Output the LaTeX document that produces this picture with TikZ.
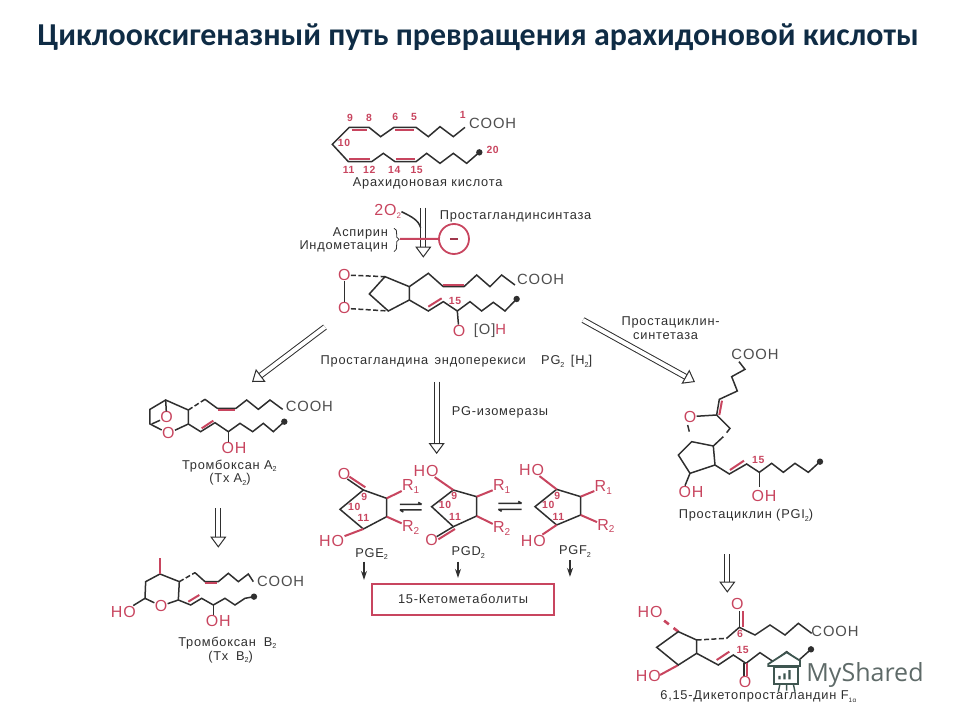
\documentclass[tikz,border=0pt]{standalone}
\usepackage{fontspec}
\setmainfont{Liberation Sans}[LetterSpace=6]
\newfontfamily\titlefont{Carlito}
\newfontfamily\markfont{Open Sans}
\usetikzlibrary{arrows.meta,positioning}
\definecolor{bondcol}{HTML}{2F2F2F}
\definecolor{chemred}{HTML}{C8455F}
\definecolor{titlecol}{HTML}{0F2C45}
\definecolor{markcol}{HTML}{5E6A68}
\definecolor{iconcol}{HTML}{3E5650}
\newcommand{\lowtwo}{\raisebox{-0.35ex}{\fontsize{3.6}{4}\selectfont 2}}
\tikzset{
	bond/.style={draw=bondcol,line width=0.75pt},
	dashbond/.style={bond,dash pattern=on 2.5pt off 1.2pt},
	redbond/.style={draw=chemred,line width=1pt},
	endatom/.style={circle,fill=bondcol,inner sep=0pt,minimum size=3.2pt},
	atom/.style={text=chemred,font=\fontsize{8}{9}\selectfont,inner sep=0pt},
	num/.style={text=chemred,font=\bfseries\fontsize{5.2}{6}\selectfont,inner sep=0pt},
	cooh/.style={text=bondcol!85,font=\fontsize{7.4}{8}\selectfont,inner sep=0pt},
	caplabel/.style={text=bondcol,font=\fontsize{6.4}{7}\selectfont,inner sep=0pt},
	hollow/.style={draw=bondcol,line width=0.5pt,double=white,double distance=2pt,
		-{Triangle[open,fill=white,length=5.5pt,width=8pt]}},
	smallarrow/.style={draw=bondcol,line width=0.55pt,-{Stealth[length=4.5pt,width=3pt]}},
}
\begin{document}
\begin{tikzpicture}[x=0.5pt,y=-0.5pt]
	\useasboundingbox (0,0) rectangle (960,720);
	\node[text=titlecol,font=\titlefont\bfseries\fontsize{15.95}{18}\selectfont,inner sep=0pt] (title) at (478,37) {Циклооксигеназный путь превращения арахидоновой кислоты};
	% arachidonic acid, top block
	\begin{scope}[shift={(290,95)},scale=0.3333]
		\draw[bond] (525,97) -- (490,125) -- (450,95) -- (415,125) -- (378,97) -- (312,97) -- (272,125) -- (237,97) -- (178,97) -- (127,148) -- (175,200) -- (245,200) -- (280,175) -- (315,200) -- (378,200) -- (410,175) -- (450,205) -- (490,175) -- (530,205) -- (568,172);
		\node[endatom] (aaend) at (568,172) {};
		\draw[redbond] (185,104) -- (232,104);
		\draw[redbond] (316,104) -- (372,104);
		\draw[redbond] (178,193) -- (240,193);
		\draw[redbond] (318,193) -- (375,193);
		\foreach \lab/\px/\py in {9/180/68,8/237/68,6/316/66,5/372/66,1/518/60,10/162/145,11/176/224,12/238/224,14/313/224,15/380/224,20/608/165}
			\node[num] (aa\lab) at (\px,\py) {\lab};
		\node[cooh] (aacooh) at (608,85) {COOH};
		\node[caplabel] (aacap) at (413,266) {Арахидоновая кислота};
		% cyclooxygenase step
		\coordinate (coxa) at (400,338);
		\coordinate (coxb) at (400,488);
		\draw[hollow] (coxa) -- (coxb);
		\node[atom] (otwo) at (293,350) {2O\raisebox{-0.35ex}{\fontsize{4}{4}\selectfont 2}};
		\draw[bond] (otwo.east) .. controls (365,365) and (385,375) .. (392,398);
		\node[caplabel] (coxname) at (677,363) {Простагландинсинтаза};
		\node[caplabel,anchor=east] (asp) at (295,415) {Аспирин};
		\node[caplabel,anchor=east] (indo) at (295,455) {Индометацин};
		\node[circle,draw=chemred,line width=0.9pt,minimum size=15pt,inner sep=0pt] (minus) at (492,432) {};
		\draw[redbond] (330,432) -- (minus);
		\draw[draw=chemred!80!black,line width=1pt] (480,431) -- (505,431);
		\draw[bond,line width=0.4pt] (312,400) .. controls (328,402) and (312,430) .. (327,433) .. controls (312,436) and (328,466) .. (312,470);
		% PGG2 / PGH2
		\node[atom] (peroxa) at (163,540) {O};
		\node[atom] (peroxb) at (163,640) {O};
		\draw[bond] (peroxa) -- (peroxb);
		\coordinate (ringa) at (285,545);
		\coordinate (ringb) at (295,648);
		\draw[dashbond] (peroxa) -- (ringa);
		\draw[dashbond] (peroxb) -- (ringb);
		\draw[bond] (ringa) -- (358,575) -- (358,615) -- (ringb) -- (238,597) -- cycle;
		\draw[bond] (358,575) -- (415,535) -- (460,575) -- (522,575) -- (560,540) -- (600,575) -- (635,540) -- (675,570);
		\draw[redbond] (460,569) -- (522,569);
		\draw[bond] (358,615) -- (415,648) -- (460,620) -- (502,648) -- (540,620) -- (575,648) -- (610,622) -- (645,648) -- (680,612);
		\draw[redbond] (415,635) -- (455,610);
		\node[endatom] (pghend) at (680,612) {};
		\node[cooh] (pghcooh) at (752,553) {COOH};
		\node[num] (pghfift) at (495,617) {15};
		\node[atom] (pgho) at (507,707) {O};
		\draw[bond] (502,648) -- (pgho);
		\node[cooh] (pghooh) at (600,707) {[O]\textcolor{chemred}{H}};
		\node[caplabel] (pghcap) at (400,800) {Простагландина\, эндоперекиси};
		\node[caplabel] (pghname) at (830,800) {PG\lowtwo\, [H\lowtwo]};
	\end{scope}
	% thromboxanes
	\begin{scope}[shift={(100,380)},scale=0.3333]
		\node[atom] (txao) at (205,160) {O};
		\node[atom] (txbr) at (200,112) {O};
		\draw[bond] (txao) -- (265,132) -- (265,90) -- (197,60) -- (150,88) -- (150,132) -- (txao);
		\draw[bond] (197,60) -- (txbr);
		\draw[bond] (txbr) -- (155,132);
		\draw[dashbond] (265,90) -- (315,58);
		\draw[bond] (315,58) -- (352,85) -- (408,85) -- (440,60) -- (475,88) -- (510,60) -- (548,88);
		\draw[redbond] (355,91) -- (405,91);
		\draw[bond] (265,132) -- (302,155) -- (345,128) -- (385,155) -- (420,130) -- (458,155) -- (490,130) -- (520,155) -- (553,125);
		\draw[redbond] (305,145) -- (340,122);
		\node[endatom] (txaend) at (553,125) {};
		\node[cooh] (txacooh) at (628,80) {COOH};
		\node[atom] (txaoh) at (402,205) {OH};
		\draw[bond] (385,155) -- (385,187);
		\node[caplabel] (txacap) at (388,258) {Тромбоксан A\lowtwo};
		\node[caplabel] (txacapb) at (390,298) {(Tx A\lowtwo)};
		\coordinate (txa) at (355,385);
		\coordinate (txb) at (355,503);
		\draw[hollow] (txa) -- (txb);
		\node[atom] (txbo) at (183,678) {O};
		\draw[bond] (txbo) -- (235,660) -- (238,605) -- (180,582) -- (137,605) -- (135,655) -- (txbo);
		\draw[redbond,line width=1.4pt] (180,582) -- (180,535);
		\node[atom] (txbho) at (70,695) {HO};
		\draw[bond] (135,655) -- (txbho);
		\draw[dashbond] (238,605) -- (285,578);
		\draw[bond] (285,578) -- (315,605) -- (355,605) -- (385,580) -- (415,605) -- (445,582) -- (460,605);
		\draw[redbond] (315,610) -- (352,610);
		\draw[bond] (235,660) -- (272,675) -- (305,655) -- (340,675) -- (375,655) -- (405,675) -- (435,655) -- (462,650);
		\draw[redbond] (265,665) -- (298,645);
		\node[endatom] (txbend) at (462,650) {};
		\node[cooh] (txbcooh) at (542,603) {COOH};
		\node[atom] (txboh) at (355,722) {OH};
		\draw[bond] (340,675) -- (340,705);
		\node[caplabel] (txbcap) at (382,788) {Тромбоксан\; B\lowtwo};
		\node[caplabel] (txbcapb) at (392,832) {(Tx\; B\lowtwo)};
	\end{scope}
	% isomerase products
	\begin{scope}[shift={(320,380)},scale=0.3333]
		\coordinate (isoa) at (350,5);
		\coordinate (isob) at (350,222);
		\draw[hollow] (isoa) -- (isob);
		\node[caplabel] (isoname) at (540,97) {PG-изомеразы};
		% ring E
		\draw[bond] (130,330) -- (200,355) -- (200,410) -- (130,447) -- (60,388) -- cycle;
		\node[atom] (eo) at (72,283) {O};
		\draw[bond] (130,330) -- (82,297);
		\draw[redbond] (136,322) -- (88,290);
		\node[atom] (ergt) at (272,320) {R\raisebox{-0.3ex}{\fontsize{5}{5}\selectfont 1}};
		\node[atom] (erlo) at (272,442) {R\raisebox{-0.3ex}{\fontsize{5}{5}\selectfont 2}};
		\node[atom] (eho) at (35,483) {HO};
		\draw[redbond] (200,355) -- (ergt);
		\draw[redbond] (200,410) -- (erlo);
		\draw[redbond] (130,447) -- (eho);
		\node[num] (enine) at (133,352) {9};
		\node[num] (eten) at (103,382) {10};
		\node[num] (eelev) at (130,415) {11};
		\draw[bond] (240,373) -- (305,373) (295,367) -- (305,373);
		\draw[bond] (305,390) -- (240,390) (250,396) -- (240,390);
		% ring D
		\draw[bond] (400,330) -- (470,350) -- (470,408) -- (400,440) -- (335,380) -- cycle;
		\node[atom] (dho) at (318,273) {HO};
		\draw[redbond] (400,330) -- (dho);
		\node[atom] (drgt) at (545,320) {R\raisebox{-0.3ex}{\fontsize{5}{5}\selectfont 1}};
		\node[atom] (drlo) at (545,445) {R\raisebox{-0.3ex}{\fontsize{5}{5}\selectfont 2}};
		\draw[redbond] (470,350) -- (drgt);
		\draw[redbond] (470,408) -- (drlo);
		\node[atom] (do) at (335,480) {O};
		\draw[bond] (400,440) -- (350,470);
		\draw[redbond] (405,447) -- (355,478);
		\node[num] (dnine) at (403,347) {9};
		\node[num] (dten) at (375,375) {10};
		\node[num] (delev) at (405,410) {11};
		\draw[bond] (535,370) -- (605,370) (595,364) -- (605,370);
		\draw[bond] (605,388) -- (535,388) (545,394) -- (535,388);
		% ring F
		\draw[bond] (710,328) -- (782,350) -- (782,405) -- (710,435) -- (645,380) -- cycle;
		\node[atom] (fhoa) at (635,270) {HO};
		\node[atom] (fhob) at (640,482) {HO};
		\draw[redbond] (710,328) -- (fhoa);
		\draw[redbond] (710,435) -- (fhob);
		\node[atom] (frgt) at (850,322) {R\raisebox{-0.3ex}{\fontsize{5}{5}\selectfont 1}};
		\node[atom] (frlo) at (858,438) {R\raisebox{-0.3ex}{\fontsize{5}{5}\selectfont 2}};
		\draw[redbond] (782,350) -- (frgt);
		\draw[redbond] (782,405) -- (frlo);
		\node[num] (fnine) at (712,347) {9};
		\node[num] (ften) at (685,375) {10};
		\node[num] (felev) at (715,410) {11};
		\node[caplabel] (pge) at (155,522) {PGE\lowtwo};
		\node[caplabel] (pgd) at (445,518) {PGD\lowtwo};
		\node[caplabel] (pgf) at (765,515) {PGF\lowtwo};
		\node[draw=chemred,line width=1pt,minimum width=91pt,minimum height=15.5pt,inner sep=0pt,caplabel] (ketobox) at (429,658) {15-Кетометаболиты};
		\coordinate (pgea) at (132,545);
		\coordinate (pgda) at (414,545);
		\coordinate (pgfa) at (750,540);
		\draw[smallarrow,shorten >=1.5pt] (pgea) -- (pgea |- ketobox.north);
		\draw[smallarrow,shorten >=2.5pt] (pgda) -- (pgda |- ketobox.north);
		\draw[smallarrow,shorten >=3pt] (pgfa) -- (pgfa |- ketobox.north);
	\end{scope}
	% prostacyclin
	\begin{scope}[shift={(620,310)},scale=0.3333]
		\node[caplabel] (pgisyna) at (152,38) {Простациклин-};
		\node[caplabel] (pgisynb) at (137,78) {синтетаза};
		\node[cooh] (picooh) at (405,133) {COOH};
		\draw[bond] (357,155) -- (375,178) -- (335,200) -- (352,243) -- (298,268) -- (290,315);
		\draw[redbond] (306,272) -- (298,315);
		\node[atom] (pio) at (210,320) {O};
		\draw[bond] (290,315) -- (pio);
		\draw[bond] (290,315) -- (330,355) -- (320,368);
		\draw[bond] (310,380) -- (280,408);
		\draw[bond] (203,345) -- (208,365);
		\draw[bond] (215,395) -- (280,408) -- (285,465) -- (210,490) -- (175,435) -- cycle;
		\node[atom] (pioha) at (213,547) {OH};
		\draw[bond] (210,490) -- (195,527);
		\draw[bond] (285,465) -- (328,492) -- (380,462) -- (418,487) -- (455,460) -- (490,487) -- (525,460) -- (565,487) -- (600,455);
		\draw[redbond] (330,480) -- (372,452);
		\node[endatom] (piend) at (600,455) {};
		\node[num] (pifift) at (415,450) {15};
		\node[atom] (piohb) at (432,558) {OH};
		\draw[bond] (418,487) -- (418,530);
		\node[caplabel] (picap) at (378,617) {Простациклин (PGI\lowtwo)};
	\end{scope}
	\coordinate (pgha) at (325,327);
	\coordinate (pghb) at (252,382);
	\coordinate (pghc) at (583,320);
	\coordinate (pghd) at (695,382);
	\draw[hollow] (pgha) -- (pghb);
	\draw[hollow] (pghc) -- (pghd);
	% 6,15-diketo
	\begin{scope}[shift={(620,540)},scale=0.3333]
		\coordinate (keta) at (322,42);
		\coordinate (ketb) at (322,158);
		\draw[hollow] (keta) -- (ketb);
		\node[atom] (kho) at (90,215) {HO};
		\node[atom] (khob) at (85,408) {HO};
		\draw[redbond,line width=1.3pt,dashed] (175,275) -- (130,240);
		\draw[redbond] (175,375) -- (120,405);
		\draw[bond] (175,275) -- (230,300) -- (230,340) -- (175,375) -- (110,322) -- cycle;
		\draw[dashbond] (230,300) -- (320,295);
		\draw[bond] (320,295) -- (358,262) -- (405,285) -- (450,255) -- (495,285) -- (535,250) -- (575,280);
		\node[atom] (koa) at (352,192) {O};
		\draw[bond] (358,262) -- (358,212);
		\draw[redbond] (368,260) -- (368,212);
		\node[num] (ksix) at (360,283) {6};
		\node[cooh] (kcooh) at (645,275) {COOH};
		\draw[bond] (230,340) -- (295,375) -- (340,345) -- (378,370) -- (420,338) -- (460,365) -- (500,335) -- (535,362) -- (573,328);
		\draw[redbond] (290,360) -- (328,335);
		\node[endatom] (kend) at (573,328) {};
		\node[num] (kfift) at (368,330) {15};
		\draw[bond] (372,370) -- (372,408);
		\draw[redbond] (382,368) -- (382,408);
		\node[atom] (kob) at (375,425) {O};
		\node[caplabel] (kcap) at (415,470) {6,15-Дикетопростагландин F\raisebox{-0.35ex}{\fontsize{3.2}{4}\selectfont 1α}};
		% watermark
		\node[text=markcol,font=\markfont\fontsize{12.5}{15}\selectfont,inner sep=0pt] (mark) at (735,405) {MyShared};
		\draw[iconcol,line width=0.9pt,fill=white] (445,372) -- (500,337) -- (540,362) -- (540,378) -- (445,378) -- cycle;
		\draw[iconcol,line width=1pt,fill=white] (462,380) rectangle (535,432);
		\fill[iconcol] (475,408) rectangle (482,418) (490,400) rectangle (497,418) (505,390) rectangle (512,418);
		\draw[iconcol,line width=0.7pt] (480,432) -- (475,455) (500,432) -- (500,452) (520,432) -- (525,455);
	\end{scope}
\end{tikzpicture}
\end{document}
